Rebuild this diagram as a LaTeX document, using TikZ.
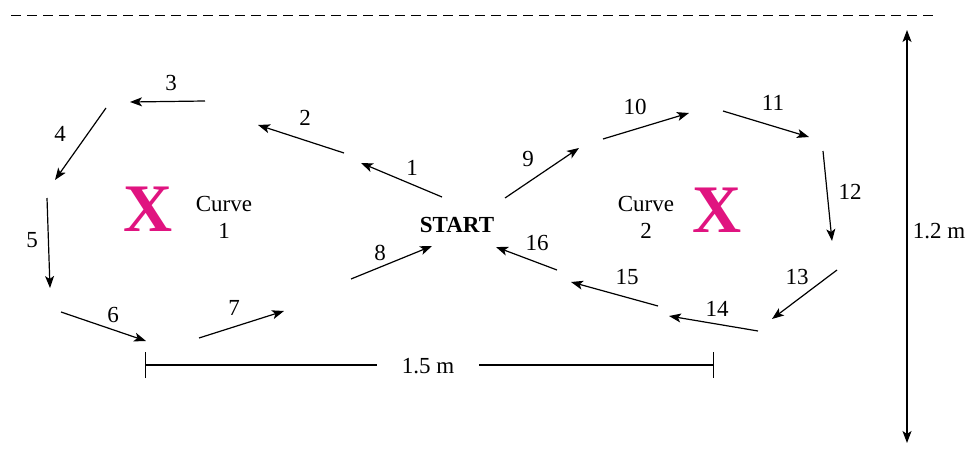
\documentclass[tikz,border=0pt]{standalone}
\usepackage{fontspec}
\setmainfont{Liberation Serif}
\usepackage{xcolor}
\usetikzlibrary{arrows.meta}
\definecolor{xpink}{RGB}{224,20,128}

\tikzset{
  mv/.style={line width=1.2pt,-{Stealth[length=12pt,width=9pt,inset=3pt]}},
  num/.style={inner sep=0pt,font=\fontsize{23}{27}\selectfont},
  target/.style={inner sep=0pt,text=xpink,font=\fontsize{68}{68}\selectfont\bfseries},
}

\begin{document}
\begin{tikzpicture}[x=1pt,y=-1pt]
\useasboundingbox (0,0) rectangle (971,457);

% top border line
\coordinate (h1) at (11,16); \coordinate (h2) at (933,16);
\draw[line width=1pt,dash pattern=on 10pt off 6pt] (h1) -- (h2);

% centre and the two targets
\node[num,font=\fontsize{23}{27}\selectfont\bfseries] (start) at (457,225) {START};
\node[target] (x1) at (148,209) {X};
\node[target] (x2) at (717,210) {X};
\node[num,align=center] (c1) at (224,217) {Curve\\1};
\node[num,align=center] (c2) at (646,217) {Curve\\2};

% curve 1
\coordinate (p1) at (442,197); \coordinate (q1) at (361,163);
\coordinate (p2) at (344,153); \coordinate (q2) at (258,125);
\coordinate (p3) at (205,101); \coordinate (q3) at (130,102);
\coordinate (p4) at (106,108); \coordinate (q4) at (55,180);
\coordinate (p5) at (47,198);  \coordinate (q5) at (50,288);
\coordinate (p6) at (61,312);  \coordinate (q6) at (146,341);
\coordinate (p7) at (199,338); \coordinate (q7) at (284,311);
\coordinate (p8) at (351,279); \coordinate (q8) at (432,246);
% curve 2
\coordinate (p9) at (505,198);  \coordinate (q9) at (579,148);
\coordinate (p10) at (603,139); \coordinate (q10) at (689,113);
\coordinate (p11) at (723,111); \coordinate (q11) at (809,137);
\coordinate (p12) at (823,151); \coordinate (q12) at (832,241);
\coordinate (p13) at (837,270); \coordinate (q13) at (772,319);
\coordinate (p14) at (758,331); \coordinate (q14) at (669,316);
\coordinate (p15) at (658,306); \coordinate (q15) at (571,282);
\coordinate (p16) at (557,270); \coordinate (q16) at (496,247);

\draw[mv] (p1) -- (q1);   \node[num] (n1) at (412,168) {1};
\draw[mv] (p2) -- (q2);   \node[num] (n2) at (305,118) {2};
\draw[mv] (p3) -- (q3);   \node[num] (n3) at (171,83) {3};
\draw[mv] (p4) -- (q4);   \node[num] (n4) at (60,134) {4};
\draw[mv] (p5) -- (q5);   \node[num] (n5) at (32,240) {5};
\draw[mv] (p6) -- (q6);   \node[num] (n6) at (113,315) {6};
\draw[mv] (p7) -- (q7);   \node[num] (n7) at (234,308) {7};
\draw[mv] (p8) -- (q8);   \node[num] (n8) at (380,253) {8};
\draw[mv] (p9) -- (q9);   \node[num] (n9) at (528,159) {9};
\draw[mv] (p10) -- (q10); \node[num] (n10) at (635,107) {10};
\draw[mv] (p11) -- (q11); \node[num] (n11) at (773,103) {11};
\draw[mv] (p12) -- (q12); \node[num] (n12) at (850,192) {12};
\draw[mv] (p13) -- (q13); \node[num] (n13) at (797,277) {13};
\draw[mv] (p14) -- (q14); \node[num] (n14) at (717,309) {14};
\draw[mv] (p15) -- (q15); \node[num] (n15) at (627,277) {15};
\draw[mv] (p16) -- (q16); \node[num] (n16) at (537,243) {16};

% dimensions
\coordinate (w1) at (145,365); \coordinate (w2) at (714,365);
\draw[line width=1.1pt,{Bar[width=26pt]}-{Bar[width=26pt]}] (w1) -- (w2);
\node[num,fill=white,minimum width=102pt,minimum height=26pt] (wl) at (428,366) {1.5 m};
\coordinate (v1) at (907,30); \coordinate (v2) at (907,443);
\draw[mv,{Stealth[length=12pt,width=9pt,inset=3pt]}-{Stealth[length=12pt,width=9pt,inset=3pt]}] (v1) -- (v2);
\node[num] (vl) at (939,231) {1.2 m};
\end{tikzpicture}
\end{document}
